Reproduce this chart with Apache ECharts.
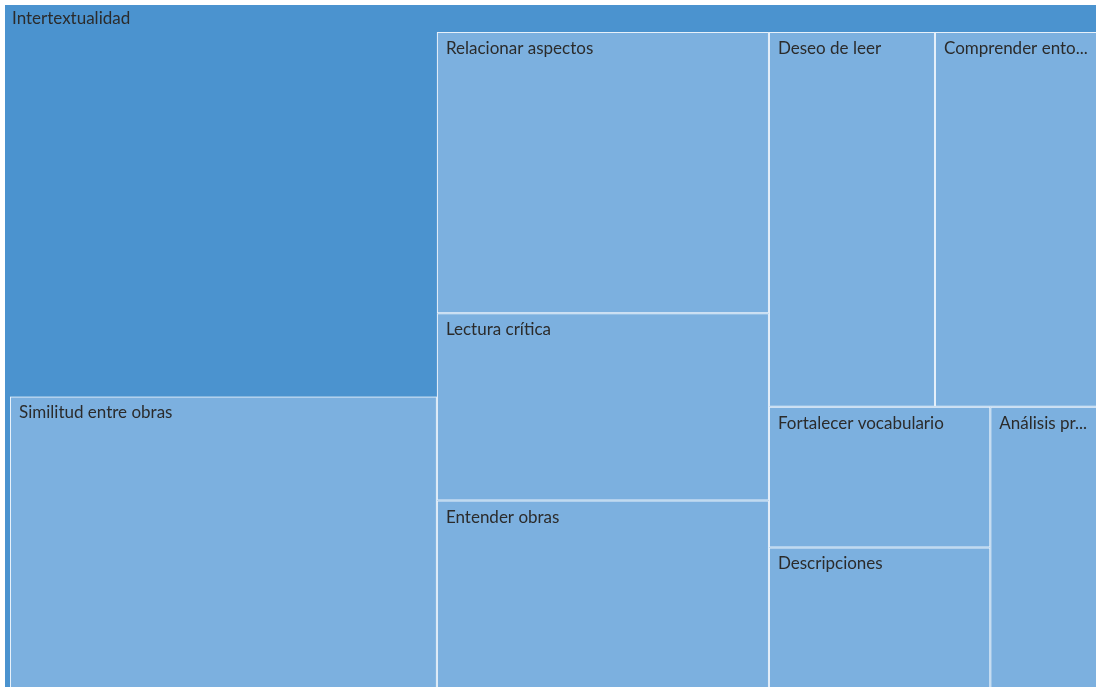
<!DOCTYPE html>
<html>
<head>
<meta charset="utf-8">
<title>Intertextualidad</title>
<script src="https://cdn.jsdelivr.net/npm/echarts@6/dist/echarts.min.js"></script>
<style>
    html, body { margin: 0; padding: 0; background: #fff; }
    #treemap-chart { width: 1096px; height: 687px; }
</style>
</head>
<body>
<div id="treemap-chart"></div>
<script>
// parent node and its own (uncovered) share
var parentName = 'Intertextualidad';
var parentValue = 5;

// children
var childNames = [
    'Similitud entre obras',
    'Relacionar aspectos',
    'Lectura crítica',
    'Entender obras',
    'Deseo de leer',
    'Comprender entorno',
    'Fortalecer vocabulario',
    'Descripciones',
    'Análisis profundo'
];
var childValues = [4, 3, 2, 2, 2, 2, 1, 1, 1];

var darkBlue = '#4b93cf';
var lightBlue = '#7cb0df';

var treemapChart = echarts.init(document.getElementById('treemap-chart'));

function genData() {
    // the parent's own value shows as a block in the parent's colour
    var children = [{
        name: '',
        value: parentValue,
        itemStyle: { color: darkBlue, borderWidth: 0 },
        label: { show: false }
    }];
    for (var i = 0; i < childNames.length; i++) {
        children.push({
            name: childNames[i],
            value: childValues[i]
        });
    }
    return [{
        name: parentName,
        children: children
    }];
}

function genOption(seriesData) {
    return {
        animation: false,
        series: [{
            type: 'treemap',
            left: 5,
            top: 5,
            width: 1101,
            height: 688,
            sort: false,
            roam: false,
            nodeClick: false,
            breadcrumb: { show: false },
            emphasis: { disabled: true },
            label: {
                show: true,
                position: 'insideTopLeft',
                padding: [7, 8, 0, 8],
                color: '#2b2b2b',
                fontFamily: 'Lato',
                fontSize: 17,
                overflow: 'truncate',
                ellipsis: '...'
            },
            levels: [{
                itemStyle: { borderWidth: 0, gapWidth: 0 }
            }, {
                itemStyle: {
                    color: darkBlue,
                    borderColor: darkBlue,
                    borderWidth: 5,
                    gapWidth: 0
                },
                upperLabel: {
                    show: true,
                    height: 27,
                    position: 'insideLeft',
                    padding: [4, 0, 0, 0],
                    offset: [-3, 0],
                    color: '#2b2b2b',
                    fontFamily: 'Lato',
                    fontSize: 17
                }
            }, {
                itemStyle: {
                    color: lightBlue,
                    borderColor: '#e8f1fa',
                    borderWidth: 1,
                    gapWidth: 0
                }
            }],
            data: seriesData
        }]
    };
}

function initChart() {
    treemapChart.setOption(genOption(genData()));
    window.onresize = function () {
        treemapChart.resize();
    };
}

initChart();
</script>
</body>
</html>
